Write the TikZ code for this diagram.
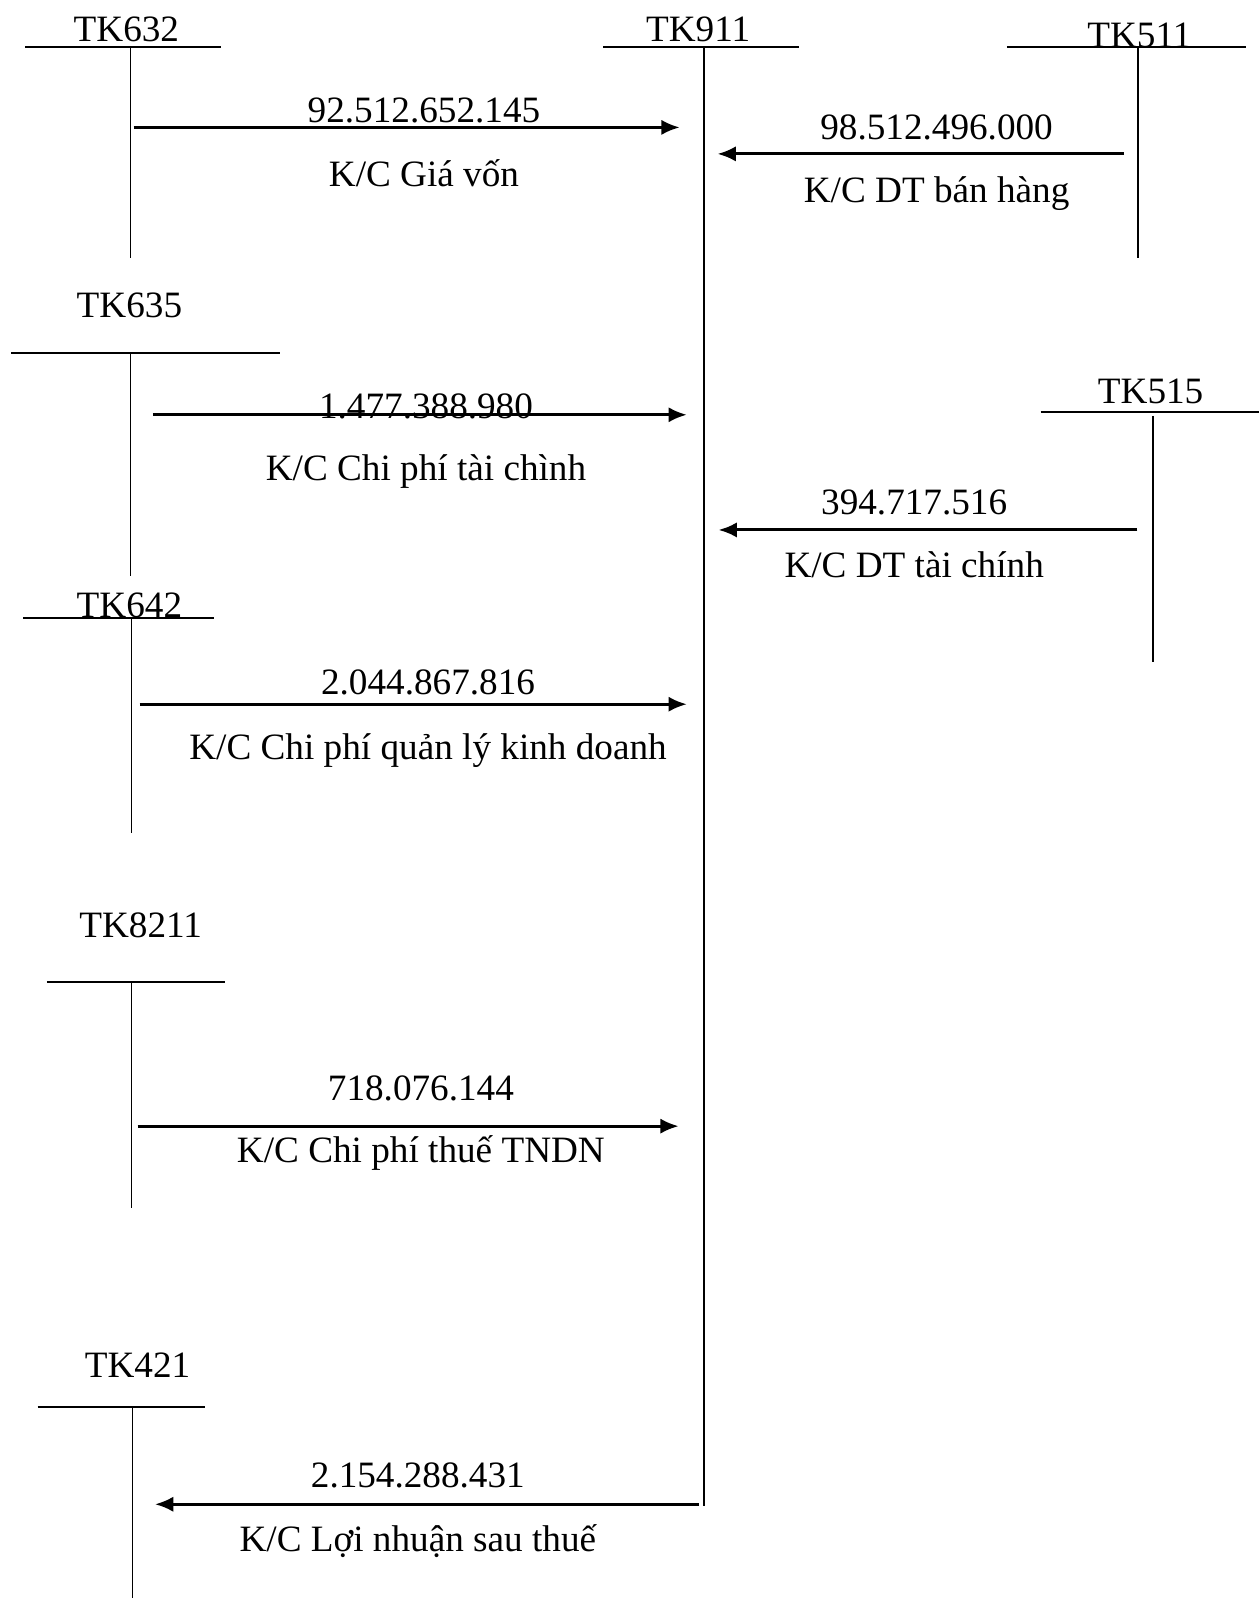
\documentclass[tikz,border=0pt]{standalone}
\usepackage{fontspec}
\setmainfont{Liberation Serif}
\usetikzlibrary{arrows.meta}

\begin{document}
\begin{tikzpicture}[
    x=0.5pt, y=-0.5pt,
    >={Latex[length=9pt,width=7.5pt]},
    font=\fontsize{18.25}{22}\selectfont,
    acct/.style={anchor=base, inner sep=0pt},
    amt/.style={anchor=base, inner sep=0pt},
    bar/.style={line width=1pt},
    stem/.style={line width=0.9pt},
    flow/.style={->, line width=1.5pt}
  ]
  \useasboundingbox (0,0) rectangle (1235,1568);

  % --- tai khoan ---
  \node[acct] (tk632) at (124,41) {TK632};
  \coordinate (tk632l) at (25,46);   \coordinate (tk632r) at (217,46);
  \coordinate (tk632t) at (128,46);  \coordinate (tk632b) at (128,253);

  \node[acct] (tk911) at (685,41) {TK911};
  \coordinate (tk911l) at (592,46);  \coordinate (tk911r) at (784,46);
  \coordinate (tk911t) at (691,46);  \coordinate (tk911b) at (691,1478);

  \node[acct] (tk511) at (1118,47) {TK511};
  \coordinate (tk511l) at (988,46);  \coordinate (tk511r) at (1223,46);
  \coordinate (tk511t) at (1117,46); \coordinate (tk511b) at (1117,253);

  \node[acct] (tk635) at (127,312) {TK635};
  \coordinate (tk635l) at (11,346);  \coordinate (tk635r) at (275,346);
  \coordinate (tk635t) at (128,346); \coordinate (tk635b) at (128,565);

  \node[acct] (tk515) at (1129,396) {TK515};
  \coordinate (tk515l) at (1021,404); \coordinate (tk515r) at (1235,404);
  \coordinate (tk515t) at (1131,408); \coordinate (tk515b) at (1131,650);

  \node[acct] (tk642) at (127,606) {TK642};
  \coordinate (tk642l) at (23,606);  \coordinate (tk642r) at (210,606);
  \coordinate (tk642t) at (129,606); \coordinate (tk642b) at (129,817);

  \node[acct] (tk8211) at (138,920) {TK8211};
  \coordinate (tk8211l) at (46,964);  \coordinate (tk8211r) at (221,964);
  \coordinate (tk8211t) at (129,964); \coordinate (tk8211b) at (129,1185);

  \node[acct] (tk421) at (135,1352) {TK421};
  \coordinate (tk421l) at (37,1381);  \coordinate (tk421r) at (201,1381);
  \coordinate (tk421t) at (130,1381); \coordinate (tk421b) at (130,1568);

  \foreach \t in {632,911,511,635,515,642,8211,421} {
    \draw[bar] (tk\t l) -- (tk\t r);
    \draw[stem] (tk\t t) -- (tk\t b);
  }

  % --- ket chuyen ---
  \coordinate (s632) at (131,125);  \coordinate (e632) at (667,125);
  \draw[flow] (s632) -- (e632);
  \node[amt] (v632) at (416,120) {92.512.652.145};
  \node[amt] (n632) at (416,183) {K/C Giá vốn};

  \coordinate (s511) at (1103,151); \coordinate (e511) at (704,151);
  \draw[flow] (s511) -- (e511);
  \node[amt] (v511) at (919,137) {98.512.496.000};
  \node[amt] (n511) at (919,199) {K/C DT bán hàng};

  \coordinate (s635) at (150,407);  \coordinate (e635) at (674,407);
  \draw[flow] (s635) -- (e635);
  \node[amt] (v635) at (418,411) {1.477.388.980};
  \node[amt] (n635) at (418,471) {K/C Chi phí tài chình};

  \coordinate (s515) at (1116,520); \coordinate (e515) at (705,520);
  \draw[flow] (s515) -- (e515);
  \node[amt] (v515) at (897,505) {394.717.516};
  \node[amt] (n515) at (897,567) {K/C DT tài chính};

  \coordinate (s642) at (137,691);  \coordinate (e642) at (674,691);
  \draw[flow] (s642) -- (e642);
  \node[amt] (v642) at (420,681) {2.044.867.816};
  \node[amt] (n642) at (420,745) {K/C Chi phí quản lý kinh doanh};

  \coordinate (s8211) at (135,1105); \coordinate (e8211) at (666,1105);
  \draw[flow] (s8211) -- (e8211);
  \node[amt] (v8211) at (413,1080) {718.076.144};
  \node[amt] (n8211) at (413,1141) {K/C Chi phí thuế TNDN};

  \coordinate (s421) at (686,1476); \coordinate (e421) at (152,1476);
  \draw[flow] (s421) -- (e421);
  \node[amt] (v421) at (410,1460) {2.154.288.431};
  \node[amt] (n421) at (410,1522) {K/C Lợi nhuận sau thuế};
\end{tikzpicture}
\end{document}
